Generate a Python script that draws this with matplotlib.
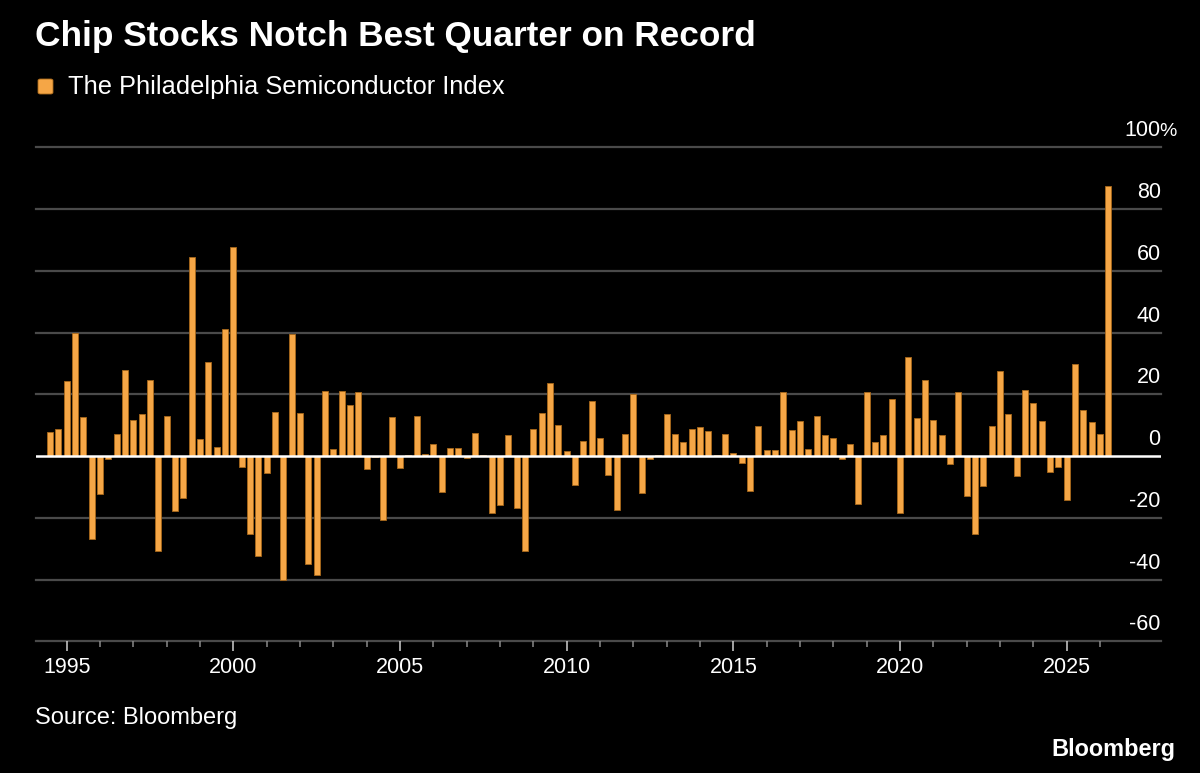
import numpy as np
import pandas as pd
import matplotlib
matplotlib.use("Agg")
import matplotlib.pyplot as plt
import matplotlib.transforms as mtransforms
from matplotlib.patches import FancyBboxPatch

# ---------------- data ----------------
quarters = pd.period_range("1994Q2", periods=128, freq="Q")
returns = [
    7.7, 8.6, 24.4, 39.8, 12.6, -27.0, -12.3, -0.8, 7.2, 28.0,
    11.7, 13.6, 24.7, -30.9, 13.1, -17.7, -13.5, 64.5, 5.6, 30.6,
    2.9, 41.1, 67.6, -3.6, -25.3, -32.3, -5.5, 14.3, -40.1, 39.5,
    13.8, -34.9, -38.6, 21.2, 2.2, 21.2, 16.5, 20.8, -4.1, -0.4,
    -20.8, 12.6, -3.8, 0.4, 13.1, 0.8, 4.0, -11.6, 2.7, 2.7,
    -0.6, 7.4, 0.2, -18.4, -15.7, 6.8, -16.7, -30.9, 8.6, 13.8,
    23.6, 10.2, 1.7, -9.4, 5.0, 17.7, 6.0, -6.1, -17.5, 7.3,
    20.2, -12.1, -0.9, 0.4, 13.5, 7.1, 4.6, 8.8, 9.4, 8.2,
    0.3, 7.3, 1.1, -2.2, -11.4, 9.8, 1.8, 2.0, 20.6, 8.3,
    11.4, 2.2, 13.1, 6.8, 6.0, -1.1, 3.9, -15.4, 20.7, 4.4,
    6.7, 18.5, -18.3, 32.0, 12.3, 24.5, 11.6, 6.8, -2.6, 20.9,
    -13.1, -25.4, -9.8, 9.6, 27.4, 13.6, -6.4, 21.4, 17.3, 11.4,
    -5.3, -3.6, -14.1, 29.8, 14.8, 11.1, 7.1, 87.5,
]
y_ticks = [-60, -40, -20, 0, 20, 40, 60, 80, 100]
y_tick_labels = ["-60", "-40", "-20", "0", "20", "40", "60", "80", "100"]
x_major_years = [1995, 2000, 2005, 2010, 2015, 2020, 2025]
x_minor_years = list(range(1995, 2027))
x_tick_labels = [str(y) for y in x_major_years]

title = "Chip Stocks Notch Best Quarter on Record"
series_name = "The Philadelphia Semiconductor Index"
source = "Source: Bloomberg"
brand = "Bloomberg"

# ---------------- style ----------------
W, H = 1200, 773
BG = "#000000"
BAR = "#F5A646"
BAR_EDGE = "#A8681A"
GRID = "#4a4a4a"
FONT = ["Liberation Sans", "DejaVu Sans"]
plt.rcParams["font.family"] = FONT

fig = plt.figure(figsize=(W / 100, H / 100), dpi=100, facecolor=BG)

def px_x(p):
    return p / W

def px_y(p):
    return 1 - p / H

ax_left, ax_right = 35.7, 1160.7
ax_bottom_px, ax_top_px = 641.3, 144.2
ax = fig.add_axes([px_x(ax_left), px_y(ax_bottom_px),
                   (ax_right - ax_left) / W, (ax_bottom_px - ax_top_px) / H])
ax.set_facecolor(BG)

# quarter-end position in fractional years
x = np.array([q.year + q.quarter / 4 for q in quarters])

ax.bar(x, returns, width=0.185, color=BAR, edgecolor=BAR_EDGE,
       linewidth=0.6, zorder=3)

ax.set_xlim(1994.07, 2027.82)
ax.set_ylim(-60, 101)

for yv in y_ticks:
    if yv == 0:
        ax.axhline(yv, color="white", lw=1.8, zorder=4)
    else:
        ax.axhline(yv, color=GRID, lw=1.6, zorder=1, clip_on=False)

for s in ax.spines.values():
    s.set_visible(False)

ax.set_xticks(x_major_years)
ax.set_xticklabels(x_tick_labels)
ax.set_xticks(x_minor_years, minor=True)
ax.tick_params(axis="x", which="major", length=7.5, width=1.1, color="#d0d0d0",
               labelcolor="white", labelsize=15.5, pad=4)
ax.tick_params(axis="x", which="minor", length=4.3, width=1.1, color="#8a8a8a")
ax.set_yticks([])

# right-side y labels above gridlines
trans = mtransforms.blended_transform_factory(ax.transAxes, ax.transData)
for yv, lab in zip(y_ticks, y_tick_labels):
    ax.annotate(lab, xy=(1.0, yv), xycoords=trans, xytext=(0, 11),
                textcoords="offset pixels", ha="right", va="baseline",
                color="white", fontsize=15.5, annotation_clip=False)
    if yv == y_ticks[-1]:
        ax.annotate("%", xy=(1.0, yv), xycoords=trans, xytext=(-1, 11),
                    textcoords="offset pixels", ha="left", va="baseline",
                    color="white", fontsize=14, annotation_clip=False)

# texts
t_title = fig.text(px_x(35), px_y(46), title, color="white", fontsize=24,
                   fontweight="bold", ha="left", va="baseline")
leg = FancyBboxPatch((px_x(38), px_y(94)), 15 / W, 15 / H,
                     boxstyle="round,pad=0,rounding_size=0.002",
                     transform=fig.transFigure, facecolor=BAR,
                     edgecolor=BAR_EDGE, linewidth=0.6)
fig.patches.append(leg)
t_leg = fig.text(px_x(68), px_y(94), series_name, color="white", fontsize=17,
                 ha="left", va="baseline")
t_src = fig.text(px_x(35), px_y(724), source, color="white", fontsize=15.5,
                 ha="left", va="baseline")
t_brand = fig.text(px_x(1175), px_y(756), brand, color="white", fontsize=15,
                   fontweight="bold", ha="right", va="baseline")

fig.canvas.draw()
renderer = fig.canvas.get_renderer()
for t, target in [(t_title, 722), (t_leg, 435), (t_src, 202), (t_brand, 125)]:
    w = t.get_window_extent(renderer).width
    t.set_fontsize(t.get_fontsize() * target / w)

fig.savefig("out.png", dpi=100, facecolor=BG)
